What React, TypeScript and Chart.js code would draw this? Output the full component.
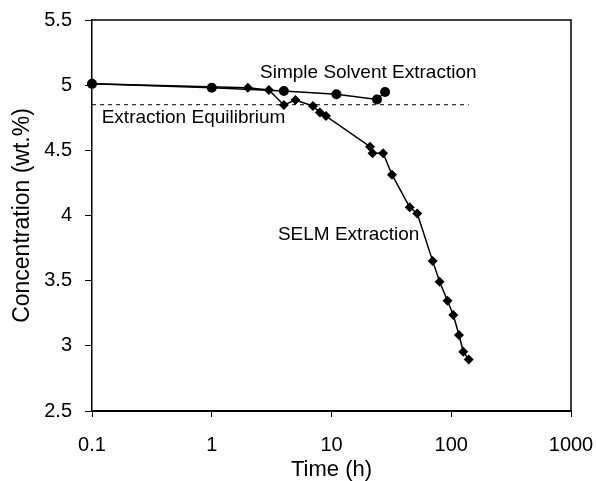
import React, { useEffect, useRef } from "react";
import { Chart, registerables } from "chart.js";

Chart.register(...registerables);

// Data
const solventTime = [0.1, 1, 4, 11, 24, 28];
const solventConc = [5.01, 4.98, 4.955, 4.93, 4.89, 4.947];

const selmTime = [0.1, 2, 3, 4, 5, 7, 8, 9, 21, 22, 27, 32, 45, 52, 70, 80, 93, 104, 116, 126, 140];
const selmConc = [5.01, 4.98, 4.963, 4.848, 4.886, 4.84, 4.79, 4.763, 4.528, 4.477, 4.477, 4.313, 4.063, 4.016, 3.65, 3.492, 3.346, 3.236, 3.083, 2.955, 2.896];

const equilibriumTime = [0.1, 140];
const equilibriumConc = [4.85, 4.85];

const xTickValues = [0.1, 1, 10, 100, 1000];
const yTickValues = [2.5, 3, 3.5, 4, 4.5, 5, 5.5];

const labelTexts = ["Simple Solvent Extraction", "Extraction Equilibrium", "SELM Extraction"];
const labelTimes = [2.53, 0.1205, 3.57];
const labelConcs = [5.093, 4.748, 3.85];

const FONT = 'Arial, "Liberation Sans", sans-serif';

const toPoints = (xs: number[], ys: number[]) => xs.map((x, i) => ({ x, y: ys[i] }));

const framePlugin = {
  id: "frameAndLabels",
  afterDatasetsDraw(chart: any) {
    const { ctx, chartArea, scales } = chart;
    const { left, top, right, bottom } = chartArea;
    ctx.save();
    ctx.strokeStyle = "#000";
    ctx.lineWidth = 1.5;
    ctx.beginPath();
    ctx.moveTo(left, top);
    ctx.lineTo(right, top);
    ctx.lineTo(right, bottom);
    ctx.stroke();
    ctx.font = `19px ${FONT}`;
    ctx.fillStyle = "#000";
    ctx.textBaseline = "middle";
    ctx.textAlign = "left";
    labelTexts.forEach((t, i) => {
      ctx.fillText(t, scales.x.getPixelForValue(labelTimes[i]), scales.y.getPixelForValue(labelConcs[i]));
    });
    ctx.restore();
  },
};

export default function App() {
  const canvasRef = useRef<HTMLCanvasElement | null>(null);

  useEffect(() => {
    if (!canvasRef.current) return;
    const chart = new Chart(canvasRef.current, {
      type: "line",
      data: {
        datasets: [
          {
            label: "Extraction Equilibrium",
            data: toPoints(equilibriumTime, equilibriumConc),
            borderColor: "#000",
            borderWidth: 1,
            borderDash: [4, 4],
            pointRadius: 0,
            clip: false,
          },
          {
            label: "Simple Solvent Extraction",
            data: toPoints(solventTime, solventConc),
            borderColor: "#000",
            backgroundColor: "#000",
            borderWidth: 1.5,
            pointStyle: "circle",
            pointRadius: 5,
            pointBorderWidth: 0,
            clip: false,
          },
          {
            label: "SELM Extraction",
            data: toPoints(selmTime, selmConc),
            borderColor: "#000",
            backgroundColor: "#000",
            borderWidth: 1.5,
            pointStyle: "rectRot",
            pointRadius: 5,
            pointBorderWidth: 0,
            clip: false,
          },
        ],
      },
      options: {
        responsive: false,
        animation: false,
        layout: { padding: { top: 20, right: 25, left: 0, bottom: 0 } },
        plugins: { legend: { display: false }, tooltip: { enabled: false } },
        elements: { line: { tension: 0 } },
        scales: {
          x: {
            type: "logarithmic",
            min: 0.1,
            max: 1000,
            afterBuildTicks: (scale: any) => {
              scale.ticks = xTickValues.map((v) => ({ value: v }));
            },
            afterFit: (scale: any) => {
              scale.height = 70;
              scale.paddingLeft = 0;
              scale.paddingRight = 0;
            },
            grid: { drawOnChartArea: false, drawTicks: true, tickLength: 6, color: "#000", lineWidth: 1 },
            border: { display: true, color: "#000", width: 2 },
            ticks: {
              color: "#000",
              font: { family: FONT, size: 20 },
              padding: 16,
              maxRotation: 0,
              autoSkip: false,
              callback: (v: any) => String(v),
            },
            title: {
              display: true,
              text: "Time (h)",
              color: "#000",
              font: { family: FONT, size: 22 },
              padding: { top: 0, bottom: -2 },
            },
          },
          y: {
            type: "linear",
            min: 2.5,
            max: 5.5,
            afterBuildTicks: (scale: any) => {
              scale.ticks = yTickValues.map((v) => ({ value: v }));
            },
            afterFit: (scale: any) => {
              scale.width = 92;
              scale.paddingTop = 0;
              scale.paddingBottom = 0;
            },
            grid: { drawOnChartArea: false, drawTicks: true, tickLength: 7, color: "#000", lineWidth: 1 },
            border: { display: true, color: "#000", width: 1.5 },
            ticks: {
              color: "#000",
              font: { family: FONT, size: 20 },
              padding: 13,
              callback: (v: any) => String(v),
            },
            title: {
              display: true,
              text: "Concentration (wt.%)",
              color: "#000",
              font: { family: FONT, size: 23 },
              padding: { top: 9, bottom: 0 },
            },
          },
        },
      },
      plugins: [framePlugin],
    } as any);
    return () => chart.destroy();
  }, []);

  return (
    <div style={{ position: "fixed", left: 0, top: 0, width: 596, height: 481, background: "#fff" }}>
      <canvas ref={canvasRef} width={596} height={481} style={{ display: "block" }} />
    </div>
  );
}
